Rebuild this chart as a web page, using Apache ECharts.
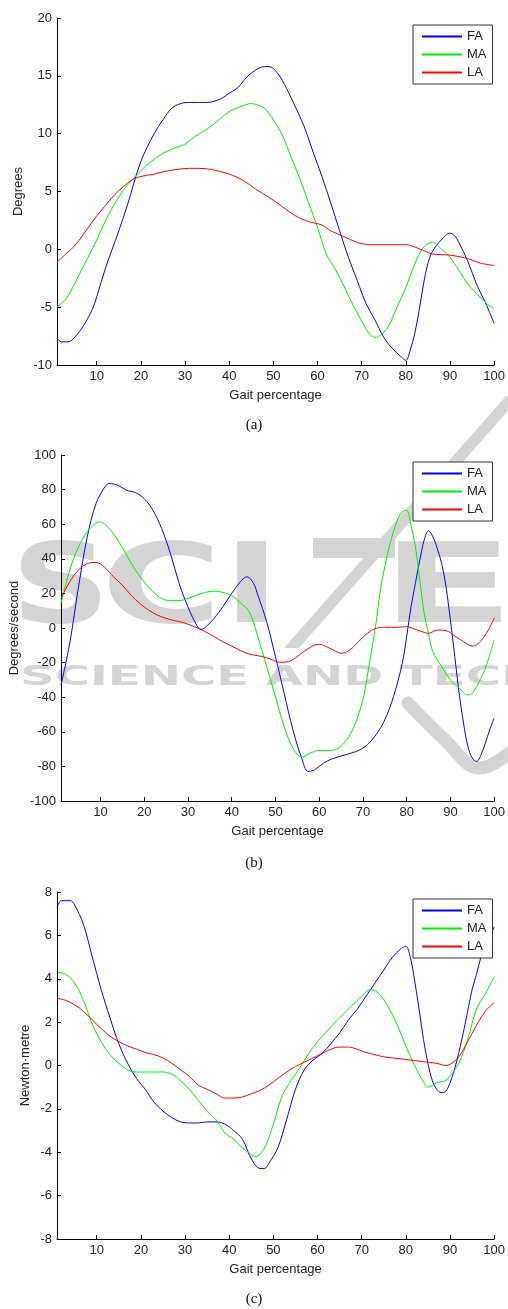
<!DOCTYPE html>
<html>
<head>
<meta charset="utf-8">
<script src="https://cdn.jsdelivr.net/npm/echarts@6/dist/echarts.min.js"></script>
<style>
  html, body { margin: 0; padding: 0; background: #fff; }
  #main { width: 508px; height: 1309px; }
</style>
</head>
<body>
<div id="main"></div>
<script>
// x ticks shared by the three panels
var xTicks = [10, 20, 30, 40, 50, 60, 70, 80, 90, 100];
var legendNames = ['FA', 'MA', 'LA'];

// (a) joint angle, degrees  [gait %, value]
var angleFA = [[1,-7.7],[2,-8.0],[3.5,-8.0],[5,-7.6],[7,-6.6],[9,-5.2],[10,-4.1],[12,-1.6],[15,1.6],[17,3.9],[20,7.6],[23,10.0],[25,11.2],[27,12.2],[29,12.6],[31,12.7],[35,12.7],[38,13.0],[40,13.5],[42,14.0],[44,14.9],[46,15.5],[48,15.8],[49,15.8],[51,15.2],[53,13.9],[55,12.3],[57,10.6],[59,8.4],[61,6.3],[63,4.0],[65,1.6],[67,-0.7],[69,-2.7],[71,-4.7],[73,-6.1],[75,-7.6],[77,-8.6],[79,-9.3],[80,-9.6],[81,-8.7],[82,-7.3],[83,-5.3],[84,-3.0],[85,-1.2],[86,-0.2],[88,0.8],[90,1.4],[91,1.2],[92,0.6],[94,-1.0],[96,-3.0],[98,-4.6],[100,-6.4]];
var angleMA = [[1,-5.0],[3,-4.3],[4,-3.7],[6,-2.2],[8,-0.7],[10,0.8],[12,2.5],[14,3.9],[16,5.1],[18,6.0],[20,6.8],[22,7.5],[25,8.3],[28,8.8],[30,9.1],[32,9.7],[35,10.4],[38,11.3],[40,11.9],[43,12.4],[45,12.6],[47,12.4],[48,12.2],[50,11.2],[52,9.9],[54,8.0],[56,6.1],[58,4.0],[60,1.9],[62,-0.4],[64,-1.7],[66,-3.2],[68,-4.8],[70,-6.2],[71,-6.9],[72,-7.4],[73,-7.6],[74,-7.5],[76,-6.7],[78,-5.0],[80,-3.3],[82,-1.3],[84,0.2],[86,0.6],[88,0.05],[90,-0.7],[92,-1.8],[94,-3.0],[96,-3.8],[98,-4.6],[100,-5.1]];
var angleLA = [[1,-1.1],[3,-0.4],[5,0.3],[7,1.3],[10,2.9],[12,3.8],[14,4.7],[16,5.4],[18,6.0],[20,6.3],[23,6.5],[25,6.7],[28,6.9],[31,7.0],[33,7.0],[36,6.9],[40,6.5],[43,6.0],[46,5.2],[49,4.5],[52,3.7],[55,2.9],[58,2.4],[61,2.1],[63,1.6],[66,1.1],[69,0.6],[72,0.4],[76,0.4],[80,0.4],[82,0.2],[84,-0.1],[86,-0.4],[90,-0.5],[94,-0.8],[97,-1.2],[100,-1.4]];

// (b) angular velocity, degrees/second
var velFA = [[1,-33],[3,-8.8],[5,23.8],[7,52.7],[9,71.9],[11,81.5],[12,83.5],[14,82.5],[16,79.6],[18,78.3],[20,74.8],[22,68.1],[24,57.5],[26,43.1],[28,25.8],[30,12.3],[32,1.7],[33,-0.8],[34,0.4],[36,5.6],[38,12.3],[40,20.0],[42,26.7],[43.5,29.6],[45,25.8],[46,19.0],[48,3.7],[50,-16.5],[52,-37.7],[54,-58.8],[56,-75.2],[57.5,-82.9],[59,-81.9],[61,-78.1],[63,-75.6],[66,-73.3],[69,-70.8],[71,-67.5],[73,-61.7],[75,-53.1],[77,-39.6],[79,-20.4],[80,-5.0],[81,12.3],[82,25.8],[83,39.2],[84,50.8],[85,56.2],[86,52.7],[87,46.0],[88,37.3],[89,23.8],[90,4.6],[91,-16.5],[92,-37.7],[93,-55.0],[94,-68.5],[95,-75.2],[96,-77.1],[97,-73.3],[98,-66.5],[99,-58.8],[100,-52.1]];
var velMA = [[1,14.2],[3,33.5],[5,46.9],[7,55.6],[9,60.8],[10,61.3],[12,57.5],[14,50.8],[16,42.1],[18,33.5],[20,26.7],[22,21.0],[24,17.1],[26,15.8],[28,15.8],[30,17.1],[32,19.0],[34,20.6],[36,21.3],[38,20.6],[40,18.7],[42,14.6],[44,9.4],[46,-5.0],[48,-22.3],[50,-39.6],[52,-56.9],[54,-69.4],[56,-74.6],[58,-72.3],[60,-70.8],[62,-70.8],[64,-70.0],[66,-65.6],[68,-56.9],[70,-41.5],[71,-28.1],[72,-12.7],[73,2.7],[74,21.9],[75,35.4],[76,46.9],[78,63.3],[79,67.1],[80,68.1],[81,59.4],[82,46.9],[83,27.7],[84,8.5],[85,-3.1],[86,-13.7],[88,-22.3],[90,-30.0],[92,-34.8],[94,-38.7],[95,-37.7],[96,-33.8],[98,-23.3],[100,-6.9]];
var velLA = [[1,17.1],[3,26.7],[5,33.5],[7,37.3],[9,37.9],[11,35.0],[13,29.6],[15,24.8],[17,19.0],[19,14.2],[21,10.4],[23,7.5],[25,5.6],[27,4.2],[29,3.1],[31,1.2],[33,-0.8],[35,-3.5],[37,-6.5],[39,-9.2],[41,-11.7],[43,-14.2],[45,-15.6],[47,-16.5],[49,-18.1],[51,-19.8],[53,-19.4],[55,-16.5],[57,-12.7],[59,-9.8],[60,-9.4],[62,-11.2],[64,-13.7],[65,-14.6],[67,-12.7],[69,-7.9],[71,-3.1],[73,-0.2],[75,0.4],[78,0.4],[80,0.8],[82,-0.8],[84,-2.5],[85,-3.1],[87,-1.2],[89,-1.5],[91,-4.6],[93,-7.9],[95,-10.4],[96,-9.8],[98,-4.0],[100,5.6]];

// (c) joint moment, newton metre
var torqueFA = [[1,7.3],[2,7.6],[4,7.6],[5,7.4],[7,6.5],[9,5.0],[11,3.5],[13,2.2],[15,1.0],[17,0.1],[19,-0.6],[21,-1.1],[23,-1.7],[25,-2.1],[27,-2.4],[29,-2.6],[31,-2.65],[33,-2.65],[35,-2.6],[37,-2.6],[39,-2.7],[41,-3.0],[43,-3.4],[45,-4.3],[47,-4.75],[48,-4.75],[49,-4.5],[51,-3.8],[53,-2.5],[55,-1.1],[57,-0.2],[59,0.25],[61,0.55],[63,1.0],[65,1.5],[67,2.1],[69,2.6],[71,3.2],[73,3.8],[75,4.4],[77,5.0],[79,5.4],[80,5.5],[81,5.0],[82,3.9],[83,2.6],[84,1.2],[85,0.1],[86,-0.7],[87,-1.1],[88,-1.25],[89,-1.2],[90,-0.8],[91,-0.2],[92,0.6],[93,1.5],[94,2.5],[95,3.5],[96,4.2],[97,5.0],[98,5.5],[99,5.9],[100,6.4]];
var torqueMA = [[1,4.3],[3,4.2],[5,3.8],[7,3.0],[9,1.9],[11,1.1],[13,0.5],[15,0.1],[17,-0.2],[19,-0.3],[21,-0.3],[23,-0.3],[25,-0.3],[27,-0.4],[29,-0.7],[31,-1.1],[33,-1.6],[35,-2.1],[37,-2.5],[39,-3.1],[41,-3.4],[43,-3.8],[45,-4.1],[46,-4.2],[48,-3.8],[50,-2.7],[52,-1.4],[54,-0.7],[56,-0.1],[58,0.55],[60,1.1],[62,1.55],[64,2.0],[66,2.4],[68,2.8],[70,3.2],[72,3.5],[74,3.3],[76,2.7],[78,1.9],[80,0.9],[82,0.0],[84,-0.75],[85,-1.0],[87,-0.8],[89,-0.7],[90,-0.5],[92,0.1],[94,1.2],[96,2.6],[98,3.3],[100,4.1]];
var torqueLA = [[1,3.1],[3,3.0],[5,2.8],[7,2.5],[9,2.1],[11,1.7],[13,1.35],[15,1.1],[17,0.9],[19,0.75],[21,0.6],[23,0.5],[25,0.35],[27,0.1],[29,-0.2],[31,-0.5],[33,-0.9],[35,-1.1],[37,-1.3],[39,-1.5],[41,-1.5],[43,-1.45],[45,-1.3],[47,-1.15],[49,-0.9],[51,-0.6],[53,-0.3],[55,-0.05],[57,0.15],[59,0.35],[61,0.55],[63,0.75],[65,0.85],[67,0.85],[69,0.75],[71,0.6],[73,0.5],[75,0.4],[77,0.35],[79,0.3],[81,0.25],[83,0.2],[85,0.15],[87,0.1],[89,0.0],[90,0.05],[92,0.4],[94,1.1],[96,1.85],[98,2.5],[100,2.9]];

var font = 'Liberation Sans, Arial, sans-serif';
var inkColor = '#222';
var lineColors = ['#0000ff', '#00ee00', '#ff0000'];

var panels = [
  {top: 18,  height: 347, min: -10,  max: 20,  step: 5,  name: 'Degrees',        gap: 32, data: [angleFA, angleMA, angleLA], legendTop: 25,  caption: '(a)', capY: 424},
  {top: 455, height: 346, min: -100, max: 100, step: 20, name: 'Degrees/second', gap: 40, data: [velFA, velMA, velLA],       legendTop: 462, caption: '(b)', capY: 862},
  {top: 892, height: 347, min: -8,   max: 8,   step: 2,  name: 'Newton\u00b7metre', gap: 25, data: [torqueFA, torqueMA, torqueLA], legendTop: 899, caption: '(c)', capY: 1298}
];

var myChart = echarts.init(document.getElementById('main'));

var grids = [], xAxes = [], yAxes = [], series = [], legends = [];
var graphics = [];

// watermark behind the plots (letter, x, horizontal stretch)
var wm = '#d4d4d4';
var bigLetters = [['S', 11, 1.25], ['C', 101, 1.5], ['I', 223, 1.4], ['E', 380, 1.8]];
for (var k = 0; k < bigLetters.length; k++) {
  graphics.push({type: 'text', z: -10, x: bigLetters[k][1], y: 538, scaleX: bigLetters[k][2],
    style: {text: bigLetters[k][0], fill: wm, font: 'bold 110px "DejaVu Sans"'}});
}
graphics.push({type: 'rect', z: -10, shape: {x: 313, y: 538, width: 82, height: 20}, style: {fill: wm}});
graphics.push({type: 'polygon', z: -10, shape: {points: [[506, 396], [521, 396], [299, 648], [284, 648]]}, style: {fill: wm}});
graphics.push({type: 'text', z: -10, x: 20, y: 665, scaleX: 1.85,
  style: {text: 'SCIENCE AND TECHNOLOGY', fill: wm, font: 'bold 26px "DejaVu Sans"'}});
graphics.push({type: 'polyline', z: -10, shape: {points: [[408, 703], [445, 740], [478, 768], [515, 748]], smooth: 0.4},
  style: {stroke: wm, lineWidth: 13, fill: null, lineCap: 'round'}});

for (var i = 0; i < panels.length; i++) {
  var p = panels[i];
  grids.push({left: 57, top: p.top, width: 441, height: p.height});
  xAxes.push({
    gridIndex: i, type: 'value', min: 1, max: 100,
    name: 'Gait percentage', nameLocation: 'middle', nameGap: 24,
    nameTextStyle: {fontFamily: font, fontSize: 13, color: inkColor},
    axisLine: {onZero: false, lineStyle: {color: '#000', width: 1}},
    axisTick: {inside: true, length: 4, customValues: xTicks, lineStyle: {color: '#000'}},
    axisLabel: {customValues: xTicks, margin: 5, fontFamily: font, fontSize: 13, color: inkColor},
    splitLine: {show: false}
  });
  yAxes.push({
    gridIndex: i, type: 'value', min: p.min, max: p.max, interval: p.step,
    name: p.name, nameLocation: 'middle', nameGap: p.gap, nameMoveOverlap: false,
    nameTextStyle: {fontFamily: font, fontSize: 13, color: inkColor},
    axisLine: {show: true, onZero: false, lineStyle: {color: '#000', width: 1}},
    axisTick: {show: true, inside: true, length: 4, lineStyle: {color: '#000'}},
    axisLabel: {margin: 5, fontFamily: font, fontSize: 13, color: inkColor},
    splitLine: {show: false}
  });
  for (var s = 0; s < 3; s++) {
    series.push({
      name: legendNames[s], type: 'line', xAxisIndex: i, yAxisIndex: i,
      data: p.data[s], symbol: 'none', smooth: 0.35, z: 3 + s,
      lineStyle: {color: lineColors[s], width: 1},
      itemStyle: {color: lineColors[s]}
    });
  }
  legends.push({
    data: legendNames, orient: 'vertical', left: 413, top: p.legendTop,
    itemWidth: 40, itemHeight: 14, itemGap: 5, padding: [5, 6, 5, 8],
    borderColor: '#333', borderWidth: 1, backgroundColor: '#fff',
    itemStyle: {color: 'rgba(0,0,0,0)', borderWidth: 0, opacity: 0},
    textStyle: {fontFamily: font, fontSize: 13, color: inkColor}
  });
  graphics.push({type: 'text', left: 'center', top: p.capY - 6,
    style: {text: p.caption, fill: '#111', font: '15px "Liberation Serif", serif'}});
}

var option = {
  animation: false,
  backgroundColor: '#fff',
  grid: grids,
  xAxis: xAxes,
  yAxis: yAxes,
  legend: legends,
  graphic: graphics,
  series: series
};
myChart.setOption(option);
</script>
</body>
</html>
